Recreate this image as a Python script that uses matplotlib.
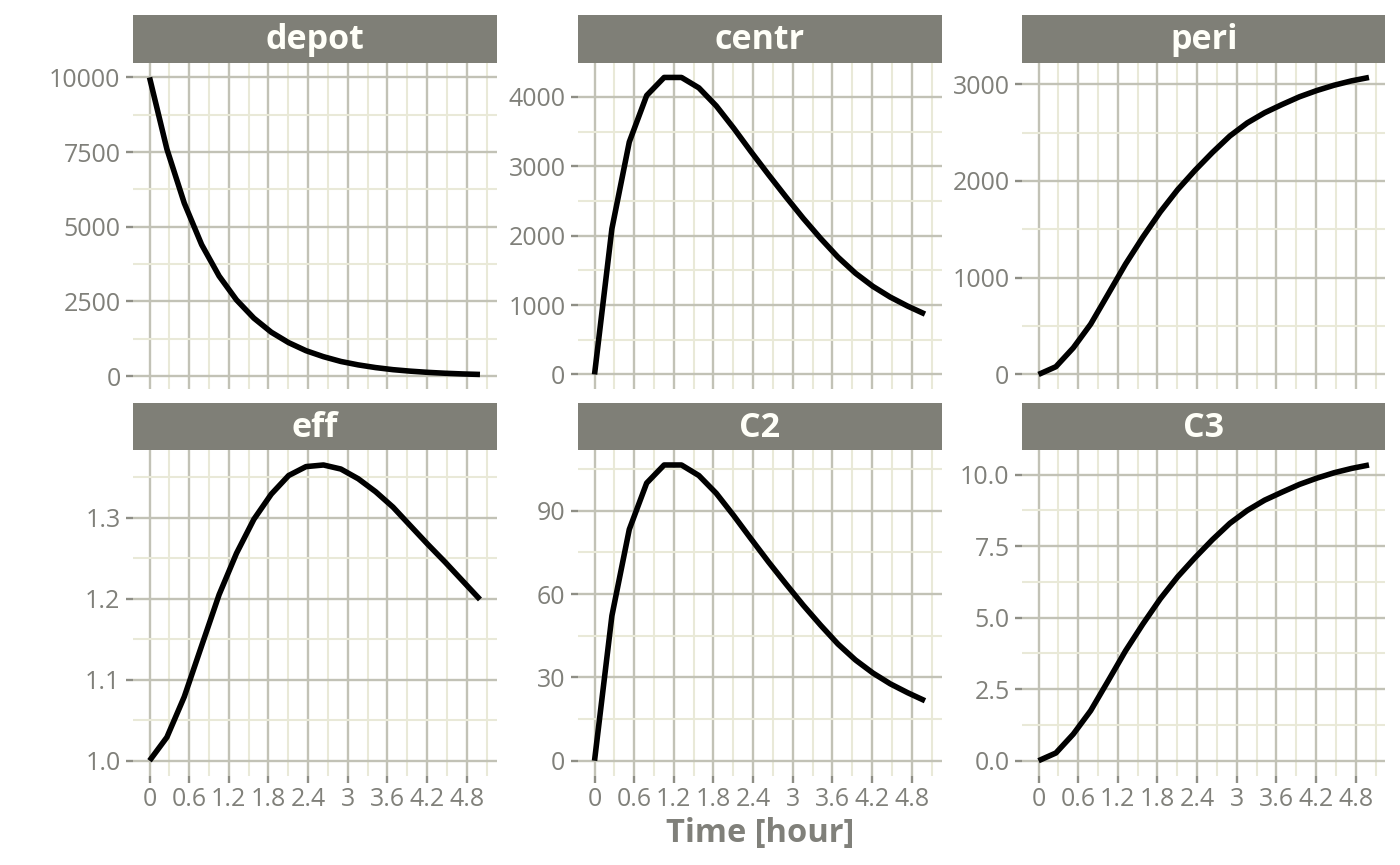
import matplotlib
matplotlib.use("Agg")
import matplotlib.pyplot as plt
from matplotlib.ticker import FixedLocator, FuncFormatter

plt.rcParams['font.family'] = ['Open Sans', 'DejaVu Sans']

# simulation output (20 time points, 0..5 h)
time = [0.0, 0.263, 0.526, 0.789, 1.053, 1.316, 1.579, 1.842, 2.105, 2.368,
        2.632, 2.895, 3.158, 3.421, 3.684, 3.947, 4.211, 4.474, 4.737, 5.0]

depot = [10000, 7600, 5790, 4400, 3350, 2550, 1940, 1470, 1120, 850,
         650, 490, 375, 285, 215, 165, 125, 95, 72, 55]
centr = [0, 2100, 3350, 4020, 4280, 4280, 4130, 3870, 3550, 3210,
         2880, 2560, 2250, 1960, 1690, 1460, 1270, 1115, 985, 870]
peri = [0, 80, 275, 520, 830, 1140, 1420, 1680, 1910, 2110,
        2295, 2465, 2600, 2705, 2790, 2870, 2935, 2990, 3035, 3070]
eff = [1.0, 1.029, 1.079, 1.142, 1.205, 1.256, 1.298, 1.329, 1.352, 1.363,
       1.365, 1.360, 1.348, 1.332, 1.313, 1.290, 1.267, 1.245, 1.222, 1.199]
C2 = [0, 52.2, 83.3, 100.0, 106.5, 106.5, 102.7, 96.3, 88.3, 79.9,
      71.6, 63.7, 56.0, 48.8, 42.0, 36.3, 31.6, 27.7, 24.5, 21.6]
C3 = [0, 0.27, 0.93, 1.75, 2.79, 3.84, 4.78, 5.66, 6.43, 7.10,
      7.73, 8.30, 8.75, 9.11, 9.39, 9.66, 9.88, 10.07, 10.22, 10.34]

panel_names = ["depot", "centr", "peri", "eff", "C2", "C3"]
panel_values = [depot, centr, peri, eff, C2, C3]

x_breaks = [0, 0.6, 1.2, 1.8, 2.4, 3.0, 3.6, 4.2, 4.8]
y_breaks = [
    [0, 2500, 5000, 7500, 10000],
    [0, 1000, 2000, 3000, 4000],
    [0, 1000, 2000, 3000],
    [1.0, 1.1, 1.2, 1.3],
    [0, 30, 60, 90],
    [0.0, 2.5, 5.0, 7.5, 10.0],
]
y_fmt = ["{:.0f}", "{:.0f}", "{:.0f}", "{:.1f}", "{:.0f}", "{:.1f}"]

STRIP = "#7f7f77"
TXT = "#80807a"
MAJOR = "#c2c2b6"
MINOR = "#e9e9d8"
TICK = "#8e8e85"

W, H = 1400, 865
fig = plt.figure(figsize=(W / 100, H / 100), dpi=100)
fig.patch.set_facecolor("white")

col_left = [133, 578, 1022]
col_w = 363.5
rows = [(62.6, 389.3, 15.0), (450.2, 775.5, 403.0)]  # plot top, plot bottom, strip top


def minor_between(breaks, lo, hi):
    step = breaks[1] - breaks[0]
    cand = [breaks[0] - step / 2] + [b + step / 2 for b in breaks]
    return [c for c in cand if lo <= c <= hi]


for k, (name, vals) in enumerate(zip(panel_names, panel_values)):
    r, c = divmod(k, 3)
    top, bot, stop = rows[r]
    left = col_left[c]
    ax = fig.add_axes([left / W, 1 - bot / H, col_w / W, (bot - top) / H])

    ax.plot(time, vals, color="black", lw=4.0, solid_capstyle="butt", zorder=3)

    ax.set_xlim(-0.25, 5.25)
    vmin, vmax = min(vals), max(vals)
    pad = (vmax - vmin) * 0.05
    ylo, yhi = vmin - pad, vmax + pad
    ax.set_ylim(ylo, yhi)

    ax.xaxis.set_major_locator(FixedLocator(x_breaks))
    ax.xaxis.set_minor_locator(FixedLocator(minor_between(x_breaks, -0.25, 5.25)))
    ax.yaxis.set_major_locator(FixedLocator(y_breaks[k]))
    ax.yaxis.set_minor_locator(FixedLocator(minor_between(y_breaks[k], ylo, yhi)))

    ax.grid(True, which="major", color=MAJOR, lw=1.7, zorder=1)
    ax.grid(True, which="minor", color=MINOR, lw=1.5, zorder=0)
    ax.set_axisbelow(True)
    for s in ax.spines.values():
        s.set_visible(False)

    fmt = y_fmt[k]
    ax.yaxis.set_major_formatter(FuncFormatter(lambda v, p, f=fmt: f.format(v)))
    ax.tick_params(axis="y", which="major", length=5, width=1.7, color=TICK,
                   labelsize=18, labelcolor=TXT, pad=4)
    ax.tick_params(which="minor", length=0)
    if r == 1:
        ax.xaxis.set_major_formatter(FuncFormatter(lambda v, p: "{:g}".format(round(v, 1))))
        ax.tick_params(axis="x", which="major", length=5, width=1.7, color=TICK,
                       labelsize=18, labelcolor=TXT, pad=3)
    else:
        ax.tick_params(axis="x", which="major", length=0, labelbottom=False)

    # facet strip
    sax = fig.add_axes([left / W, 1 - top / H, col_w / W, (top - stop) / H])
    sax.set_facecolor(STRIP)
    sax.set_xticks([])
    sax.set_yticks([])
    for s in sax.spines.values():
        s.set_visible(False)
    sax.text(0.5, 0.47, name, transform=sax.transAxes, ha="center", va="center",
             color="#fffff8", fontsize=24.5, fontweight="bold")

fig.text((578 + col_w / 2) / W, 1 - 834 / H, "Time [hour]", ha="center", va="center",
         color=TXT, fontsize=23.5, fontweight="bold")

fig.savefig("out.png", dpi=100)
